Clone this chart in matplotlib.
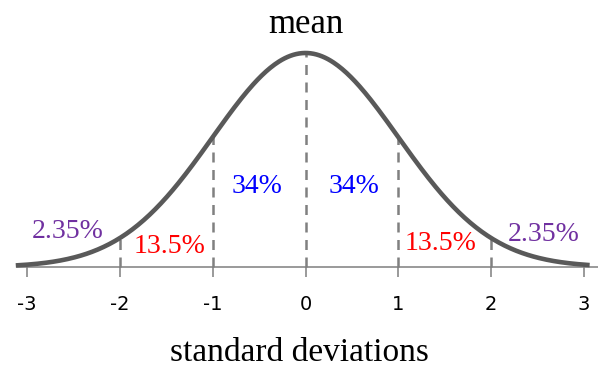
import numpy as np
import matplotlib
matplotlib.use('Agg')
import matplotlib.pyplot as plt

# standard normal curve with the share of area between each sd line
sd_ticks = [-3, -2, -1, 0, 1, 2, 3]
sd_lines = [-2, -1, 0, 1, 2]
band_labels = ['2.35%', '13.5%', '34%', '34%', '13.5%', '2.35%']
band_colors = ['#7030a0', '#ff0000', '#0000ff', '#0000ff', '#ff0000', '#7030a0']


def pdf(x):
    return np.exp(-0.5 * np.asarray(x) ** 2) / np.sqrt(2 * np.pi)


fig = plt.figure(figsize=(5.98, 3.69), dpi=100)
ax = fig.add_axes([0, 0, 1, 1])
ax.set_xlim(-3.29, 3.15)
ax.set_ylim(-0.190, 0.4977)

x = np.linspace(-3.12, 3.06, 400)
ax.plot(x, pdf(x), color='#595959', lw=3.3, solid_capstyle='butt', zorder=3)

for s in sd_lines:
    ax.plot([s, s], [0, pdf(s)], color='#808080', lw=1.8,
            linestyle=(0, (4, 3)), zorder=2)

# bottom spine as the baseline
for side in ['top', 'right', 'left']:
    ax.spines[side].set_visible(False)
ax.spines['bottom'].set_position(('data', 0))
ax.spines['bottom'].set_bounds(-3.11, 3.2)
ax.spines['bottom'].set_color('#7f7f7f')
ax.spines['bottom'].set_linewidth(1.1)
ax.set_yticks([])
ax.set_xticks(sd_ticks)
ax.set_xticklabels([str(t) for t in sd_ticks])
ax.tick_params(axis='x', direction='out', length=7, width=1.1,
               color='#7f7f7f', pad=13, labelsize=14, labelcolor='black')

serif = 'Liberation Serif'
# label positions in data coords
pos = [(-2.56, 0.066), (-1.46, 0.038), (-0.52, 0.150),
       (0.52, 0.150), (1.45, 0.043), (2.57, 0.060)]
for (px, py), txt, c in zip(pos, band_labels, band_colors):
    ax.text(px, py, txt, color=c, fontsize=20, family=serif,
            ha='center', va='center')

ax.text(0, 0.4525, 'mean', fontsize=25, family=serif,
        ha='center', va='center')
ax.text(-0.06, -0.160, 'standard deviations', fontsize=24, family=serif,
        ha='center', va='center')

fig.savefig('out.png', dpi=100)
